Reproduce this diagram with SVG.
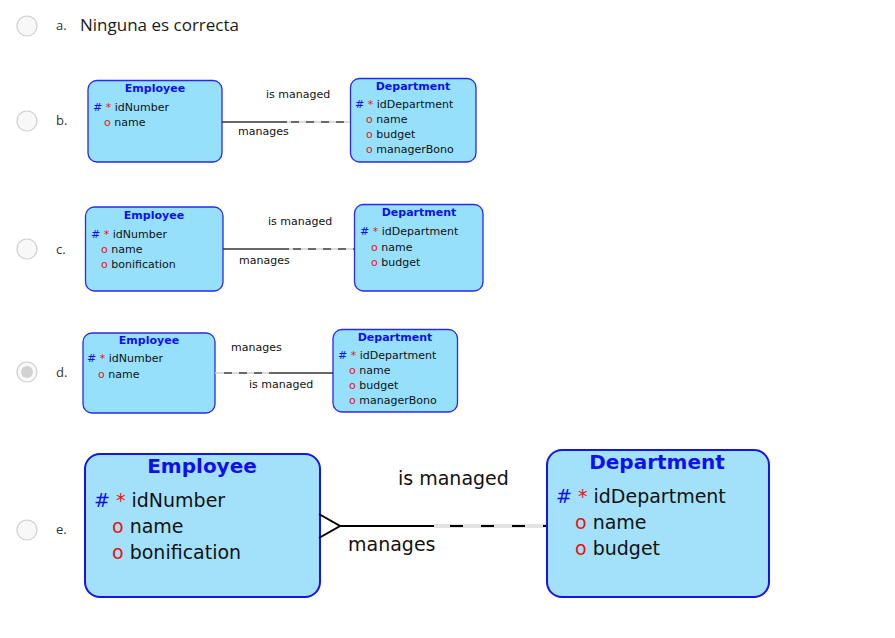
<svg xmlns="http://www.w3.org/2000/svg" width="895" height="638" viewBox="0 0 895 638">
<defs>
<style>
.bg{fill:#ffffff}
.radio{fill:#f8f8f8;stroke:#cfcfcf;stroke-width:1.2}
.opt{font-family:"Open Sans","Noto Sans",sans-serif;fill:#333;font-size:13px}
.ans{font-family:"Open Sans","Noto Sans",sans-serif;fill:#1a1a1a;font-size:17px}
.box{fill:#96e0fc;stroke:#2828f0;stroke-width:1.3}
.boxe{fill:#a3e1fb;stroke:#1414f0;stroke-width:2}
.t{font-family:"DejaVu Sans","Liberation Sans",sans-serif;fill:#111}
.ttl{font-family:"DejaVu Sans","Liberation Sans",sans-serif;fill:#1010ee;font-weight:bold;text-anchor:middle}
.hash{fill:#1010ee}
.red{fill:#ee1010}
.s{font-size:11px}
.l{font-size:19px}
.solid{stroke:#333;stroke-width:1.3;fill:none}
.under{stroke:#d0d0d0;stroke-width:1.3;fill:none}
.dash{stroke:#444;stroke-width:1.3;fill:none;stroke-dasharray:8 7}
.solide{stroke:#000;stroke-width:2;fill:none}
.undere{stroke:#c8c8c8;stroke-width:3;fill:none}
.undere2{stroke:#ffffff;stroke-width:1;fill:none}
.dashe{stroke:#000;stroke-width:2;fill:none;stroke-dasharray:13 18}
</style>
</defs>
<rect class="bg" x="0" y="0" width="895" height="638"/>

<g id="options">
<circle class="radio" cx="27" cy="26" r="10"/>
<circle class="radio" cx="27" cy="121" r="10"/>
<circle class="radio" cx="27" cy="249" r="10"/>
<circle class="radio" cx="27" cy="372" r="10"/>
<circle cx="27" cy="372" r="6" fill="#d2d2d2"/>
<circle class="radio" cx="27" cy="530" r="10"/>
<text class="opt" x="56" y="30">a.</text>
<text class="ans" x="80" y="31">Ninguna es correcta</text>
<text class="opt" x="56" y="125">b.</text>
<text class="opt" x="56" y="254">c.</text>
<text class="opt" x="56" y="377">d.</text>
<text class="opt" x="56" y="534">e.</text>
</g>

<!-- b -->
<g id="b-employee">
<rect class="box" x="88" y="80.5" width="134" height="81.5" rx="9"/>
<text class="ttl s" x="155" y="92">Employee</text>
<text class="t s" x="93" y="111"><tspan class="hash">#</tspan> <tspan class="red">*</tspan> idNumber</text>
<text class="t s" x="104" y="126"><tspan class="red">o</tspan> name</text>
</g>
<g id="b-department">
<rect class="box" x="350.5" y="78.5" width="125.5" height="83.5" rx="9"/>
<text class="ttl s" x="413" y="90">Department</text>
<text class="t s" x="355" y="108"><tspan class="hash">#</tspan> <tspan class="red">*</tspan> idDepartment</text>
<text class="t s" x="366" y="123"><tspan class="red">o</tspan> name</text>
<text class="t s" x="366" y="138"><tspan class="red">o</tspan> budget</text>
<text class="t s" x="366" y="153"><tspan class="red">o</tspan> managerBono</text>
</g>

<!-- c -->
<g id="c-employee">
<rect class="box" x="85.5" y="207" width="137.5" height="84" rx="9"/>
<text class="ttl s" x="154" y="219">Employee</text>
<text class="t s" x="91" y="238"><tspan class="hash">#</tspan> <tspan class="red">*</tspan> idNumber</text>
<text class="t s" x="101" y="253"><tspan class="red">o</tspan> name</text>
<text class="t s" x="101" y="268"><tspan class="red">o</tspan> bonification</text>
</g>
<g id="c-department">
<rect class="box" x="354.5" y="204.5" width="128.5" height="86.5" rx="9"/>
<text class="ttl s" x="419" y="216">Department</text>
<text class="t s" x="360" y="235"><tspan class="hash">#</tspan> <tspan class="red">*</tspan> idDepartment</text>
<text class="t s" x="371" y="251"><tspan class="red">o</tspan> name</text>
<text class="t s" x="371" y="266"><tspan class="red">o</tspan> budget</text>
</g>

<!-- d -->
<g id="d-employee">
<rect class="box" x="83" y="333" width="132" height="80" rx="9"/>
<text class="ttl s" x="149" y="344">Employee</text>
<text class="t s" x="87" y="362"><tspan class="hash">#</tspan> <tspan class="red">*</tspan> idNumber</text>
<text class="t s" x="98" y="378"><tspan class="red">o</tspan> name</text>
</g>
<g id="d-department">
<rect class="box" x="333" y="329.5" width="124.5" height="82.5" rx="9"/>
<text class="ttl s" x="395" y="341">Department</text>
<text class="t s" x="338" y="359"><tspan class="hash">#</tspan> <tspan class="red">*</tspan> idDepartment</text>
<text class="t s" x="349" y="374"><tspan class="red">o</tspan> name</text>
<text class="t s" x="349" y="389"><tspan class="red">o</tspan> budget</text>
<text class="t s" x="349" y="404"><tspan class="red">o</tspan> managerBono</text>
</g>

<!-- e -->
<g id="e-employee">
<rect class="boxe" x="85" y="454" width="235" height="143" rx="15"/>
<text class="ttl" x="202" y="473" font-size="20">Employee</text>
<text class="t l" x="94" y="507"><tspan class="hash">#</tspan> <tspan class="red">*</tspan> idNumber</text>
<text class="t l" x="112" y="533"><tspan class="red">o</tspan> name</text>
<text class="t l" x="112" y="559"><tspan class="red">o</tspan> bonification</text>
</g>
<g id="e-department">
<rect class="boxe" x="547" y="450" width="222" height="147" rx="15"/>
<text class="ttl" x="657" y="469" font-size="20">Department</text>
<text class="t l" x="556" y="503"><tspan class="hash">#</tspan> <tspan class="red">*</tspan> idDepartment</text>
<text class="t l" x="575" y="529"><tspan class="red">o</tspan> name</text>
<text class="t l" x="575" y="555"><tspan class="red">o</tspan> budget</text>
</g>

<g id="connectors">
<!-- b -->
<line class="solid" x1="222" y1="122" x2="287" y2="122"/>
<line class="under" x1="287" y1="122" x2="350" y2="122"/>
<line class="dash" x1="291" y1="122" x2="350" y2="122"/>
<!-- c -->
<line class="solid" x1="223" y1="249" x2="289" y2="249"/>
<line class="under" x1="289" y1="249" x2="354" y2="249"/>
<line class="dash" x1="293" y1="249" x2="354" y2="249"/>
<!-- d -->
<line class="under" x1="215" y1="373" x2="275" y2="373"/>
<line class="dash" x1="224" y1="373" x2="275" y2="373"/>
<line class="solid" x1="275" y1="373" x2="333" y2="373"/>
<!-- e -->
<line class="solide" x1="340" y1="526" x2="434" y2="526"/>
<line class="undere" x1="434" y1="526" x2="546" y2="526"/>
<line class="undere2" x1="434" y1="526" x2="546" y2="526"/>
<line class="dashe" x1="450" y1="526" x2="546" y2="526"/>
<polyline class="solide" points="319,514 340,526 319,538"/>
</g>

<g id="labels">
<text class="t s" x="266" y="98">is managed</text>
<text class="t s" x="238" y="135">manages</text>
<text class="t s" x="268" y="225">is managed</text>
<text class="t s" x="239" y="264">manages</text>
<text class="t s" x="231" y="351">manages</text>
<text class="t s" x="249" y="388">is managed</text>
<text class="t l" x="398" y="485">is managed</text>
<text class="t l" x="348" y="551">manages</text>
</g>
</svg>
